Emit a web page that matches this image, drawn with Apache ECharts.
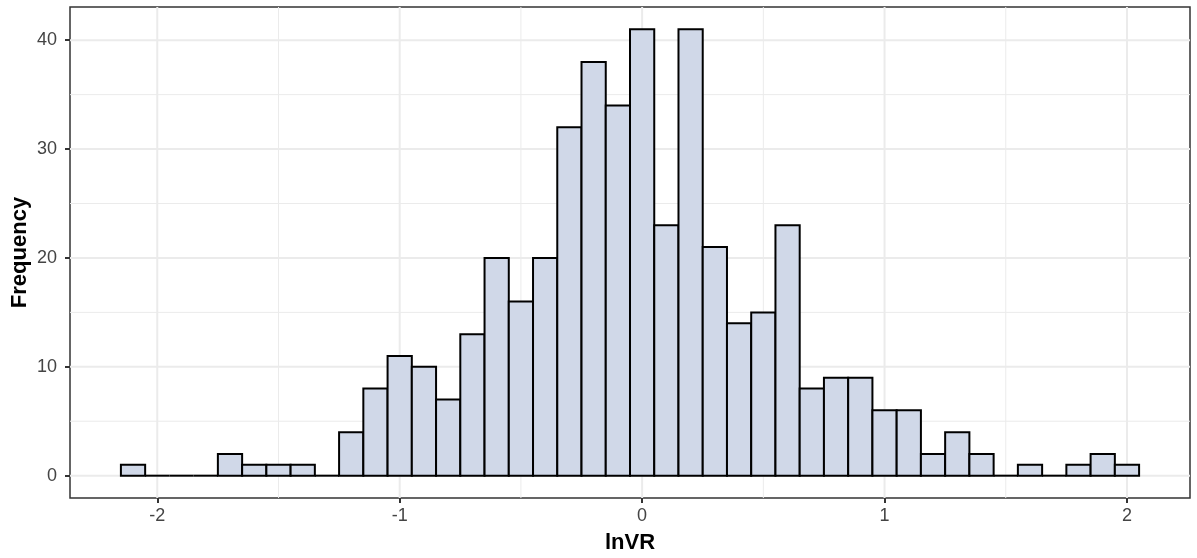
<!DOCTYPE html>
<html>
<head>
<meta charset="utf-8">
<script src="https://cdn.jsdelivr.net/npm/echarts@6/dist/echarts.min.js"></script>
<style>
html,body{margin:0;padding:0;background:#fff;}
#chart{width:1197px;height:558px;}
</style>
</head>
<body>
<div id="chart"></div>
<script>
// Histogram bins (centers) and counts
const binCenters = [-2.1,-2.0,-1.9,-1.8,-1.7,-1.6,-1.5,-1.4,-1.3,-1.2,-1.1,-1.0,-0.9,-0.8,-0.7,-0.6,-0.5,-0.4,-0.3,-0.2,-0.1,0.0,0.1,0.2,0.3,0.4,0.5,0.6,0.7,0.8,0.9,1.0,1.1,1.2,1.3,1.4,1.5,1.6,1.7,1.8,1.9,2.0];
const counts     = [1,0,0,0,2,1,1,1,0,4,8,11,10,7,13,20,16,20,32,38,34,41,23,41,21,14,15,23,8,9,9,6,6,2,4,2,0,1,0,1,2,1];
const binWidth = 0.1;

const xTicks = [-2,-1,0,1,2];
const xMinor = [-1.5,-0.5,0.5,1.5];
const yTicks = [0,10,20,30,40];
const yMinor = [5,15,25,35];

const xMin = -2.36, xMax = 2.26;
const yMin = -2.05, yMax = 43.05;

const FONT = 'Liberation Sans, Arial, sans-serif';
const GRIDCOL = '#EBEBEB';

function vLines(width){
  return function(params, api){
    const cs = params.coordSys;
    const p = api.coord([api.value(0), api.value(1)]);
    return {type:'line', shape:{x1:p[0], y1:cs.y, x2:p[0], y2:cs.y+cs.height},
      style:{stroke:GRIDCOL, lineWidth:width}, silent:true};
  };
}
function hLines(width){
  return function(params, api){
    const cs = params.coordSys;
    const p = api.coord([api.value(0), api.value(1)]);
    return {type:'line', shape:{x1:cs.x, y1:p[1], x2:cs.x+cs.width, y2:p[1]},
      style:{stroke:GRIDCOL, lineWidth:width}, silent:true};
  };
}

const chart = echarts.init(document.getElementById('chart'), null, {renderer:'canvas'});
chart.setOption({
  animation:false,
  backgroundColor:'#ffffff',
  grid:{left:70, right:7, top:7, bottom:60, containLabel:false, outerBoundsMode:'none',
    show:true, borderColor:'#333333', borderWidth:1.5, backgroundColor:'#ffffff', z:0},
  xAxis:{
    type:'value', min:xMin, max:xMax,
    name:'lnVR', nameLocation:'middle', nameGap:34, nameMoveOverlap:false,
    nameTextStyle:{fontFamily:FONT, fontSize:22, fontWeight:'bold', color:'#000'},
    axisLine:{show:false, onZero:false},
    axisTick:{show:true, length:5, customValues:xTicks, lineStyle:{color:'#333333', width:2}},
    axisLabel:{customValues:xTicks, margin:9, fontFamily:FONT, fontSize:18, color:'#444444'},
    splitLine:{show:false}
  },
  yAxis:{
    type:'value', min:yMin, max:yMax,
    name:'Frequency', nameLocation:'middle', nameGap:39, nameRotate:90, nameMoveOverlap:false,
    nameTextStyle:{fontFamily:FONT, fontSize:22, fontWeight:'bold', color:'#000'},
    axisLine:{show:false, onZero:false},
    axisTick:{show:true, length:5, customValues:yTicks, lineStyle:{color:'#333333', width:2}},
    axisLabel:{customValues:yTicks, margin:13, fontFamily:FONT, fontSize:18, color:'#444444'},
    splitLine:{show:false}
  },
  series:[
    {type:'custom', z:1, silent:true, renderItem:vLines(1), data:xMinor.map(v=>[v,0])},
    {type:'custom', z:1, silent:true, renderItem:hLines(1), data:yMinor.map(v=>[0,v])},
    {type:'custom', z:2, silent:true, renderItem:vLines(2), data:xTicks.map(v=>[v,0])},
    {type:'custom', z:2, silent:true, renderItem:hLines(2), data:yTicks.map(v=>[0,v])},
    {
      type:'custom', z:5,
      data: binCenters.map((c,i)=>[c, counts[i]]),
      renderItem:function(params, api){
        const c = api.value(0), n = api.value(1);
        const p0 = api.coord([c - binWidth/2, 0]);
        const p1 = api.coord([c + binWidth/2, n]);
        if (n === 0) {
          return {type:'line', shape:{x1:p0[0], y1:p0[1], x2:p1[0], y2:p0[1]},
            style:{stroke:'#000', lineWidth:2}};
        }
        return {type:'rect', shape:{x:p0[0], y:p1[1], width:p1[0]-p0[0], height:p0[1]-p1[1]},
          style:{fill:'#D0D8E8', stroke:'#000000', lineWidth:2}};
      }
    }
  ]
});
</script>
</body>
</html>
